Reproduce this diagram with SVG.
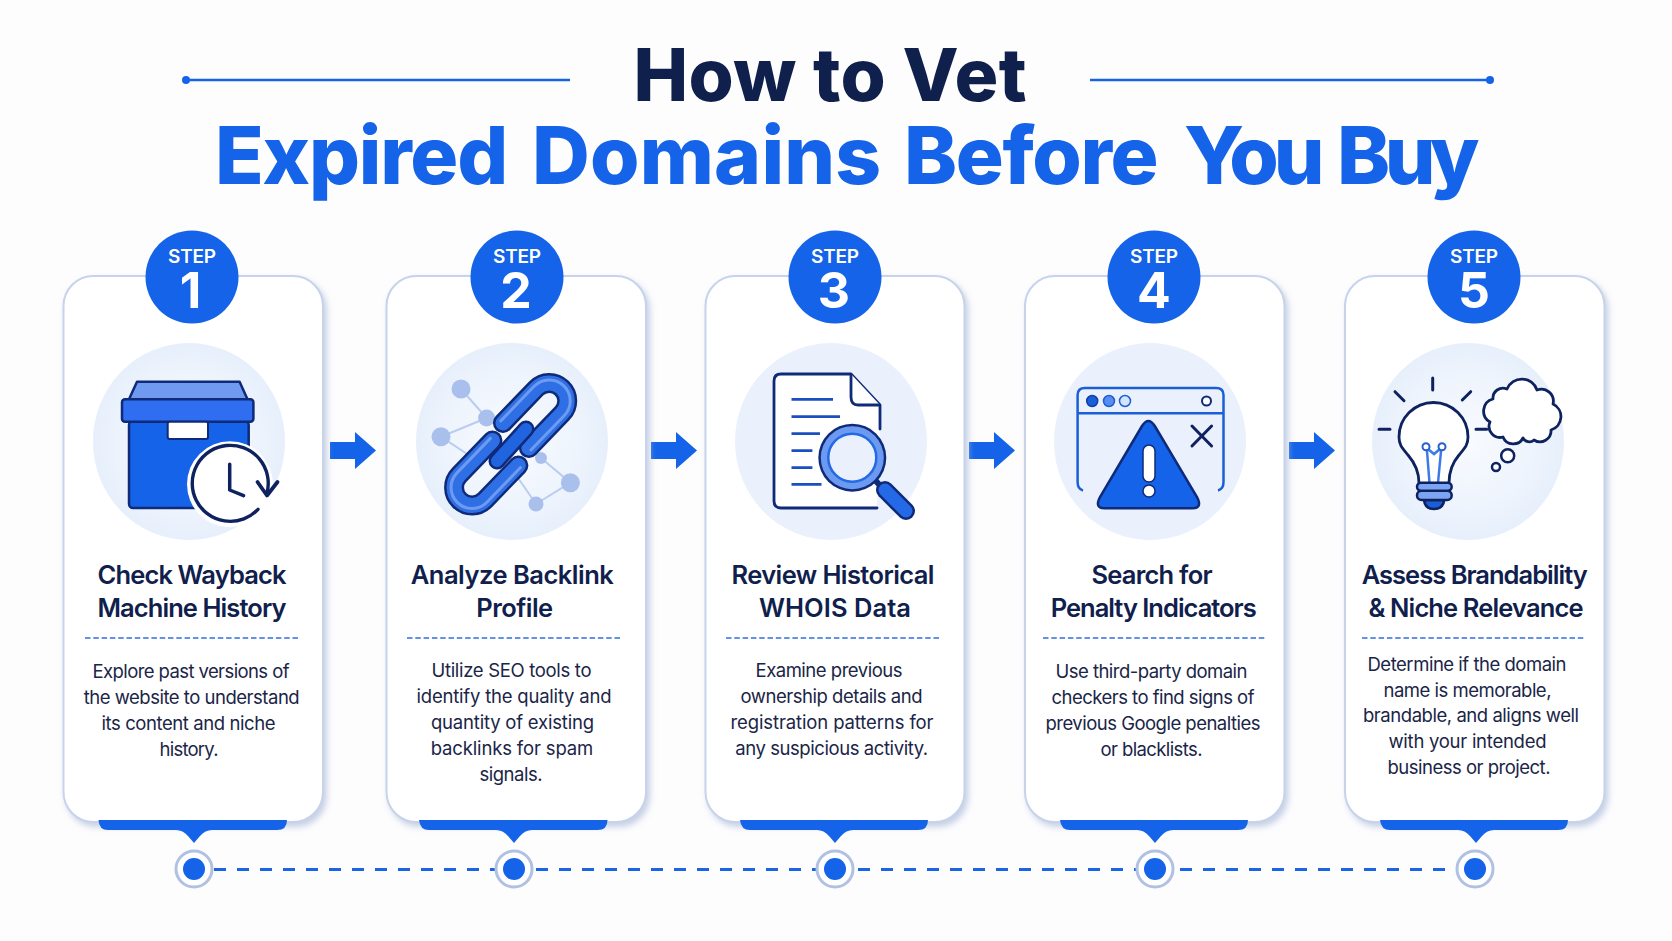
<svg xmlns="http://www.w3.org/2000/svg" width="1672" height="941" viewBox="0 0 1672 941">
<style>
text{font-family:Inter,"Liberation Sans",sans-serif;text-anchor:middle}
.h1{font-size:73px;font-weight:800;fill:#10204c}
.h2{font-size:80px;font-weight:800;fill:#1463e8;text-anchor:start}
.st{font-size:19px;font-weight:600;fill:#fff}
.num{font-size:50px;font-weight:700;fill:#fff}
.t{font-size:25.5px;font-weight:600;fill:#10204c}
.d{font-size:18.5px;font-weight:400;fill:#1a2547}
.card{fill:#fff;stroke:#c6d3ea;stroke-width:2;filter:url(#sh)}
.bub{fill:#1463e8}
.halo{fill:url(#halo)}
.sep{stroke:#2f6fe0;stroke-width:1.6;stroke-dasharray:5.5 2.8;fill:none}
.tab{fill:#1463e8}
.nav{stroke:#0f2260;fill:none;stroke-linecap:round;stroke-linejoin:round}
.arrow{fill:#1463e8}
.dot{fill:#a9c0ed}
.edge{stroke:#b9cdf1;stroke-width:2;fill:none}
.ring{fill:#fff;stroke:#b0c1e2;stroke-width:3}
</style>
<defs>
<filter id="sh" x="-10%" y="-10%" width="120%" height="120%"><feDropShadow dx="3" dy="4" stdDeviation="3" flood-color="#aebdd9" flood-opacity=".7"/></filter>
<radialGradient id="halo"><stop offset="0" stop-color="#f8fbff"/><stop offset=".7" stop-color="#eef4fd"/><stop offset="1" stop-color="#e6effb"/></radialGradient>
</defs>
<rect width="1672" height="941" fill="#fdfdfe"/>

<g id="title">
<line x1="186" y1="80" x2="570" y2="80" stroke="#1463e8" stroke-width="2.6"/><circle cx="186" cy="80" r="4" fill="#1463e8"/>
<line x1="1090" y1="80" x2="1490" y2="80" stroke="#1463e8" stroke-width="2.6"/><circle cx="1490" cy="80" r="4" fill="#1463e8"/>
<text class="h1" x="830" y="101" textLength="393">How to Vet</text>
<text class="h2" y="184"><tspan x="215" letter-spacing="-1.200">Expired</tspan> <tspan x="532" letter-spacing="0.200">Domains</tspan> <tspan x="904" letter-spacing="-1.400">Before</tspan> <tspan x="1184" letter-spacing="-5">You</tspan> <tspan x="1337" letter-spacing="-5.500">Buy</tspan></text>
</g>

<g id="connectors">
<path class="arrow" d="M330 442H355V432L376 450.5 355 469V459H330Z"/>
<path class="arrow" d="M651 442H676V432L697 450.5 676 469V459H651Z"/>
<path class="arrow" d="M969 442H994V432L1015 450.5 994 469V459H969Z"/>
<path class="arrow" d="M1289 442H1314V432L1335 450.5 1314 469V459H1289Z"/>
<line x1="214" y1="869.500" x2="1457" y2="869.500" stroke="#1c64e6" stroke-width="2.800" stroke-dasharray="12 11"/>
</g>

<g id="step1">
<rect class="card" x="63.500" y="276" width="259.500" height="546" rx="30"/>
<path class="tab" d="M98.5 820H287Q287 830 277 830H212Q205 830 200 836L194 843 188 836Q183 830 176 830H108Q99 830 98.5 820Z"/>
<circle class="bub" cx="192" cy="277" r="46.500"/>
<text class="st" x="192" y="263" textLength="48">STEP</text><text class="num" x="190.500" y="308">1</text>
<ellipse class="halo" cx="189" cy="441.500" rx="96" ry="98.500"/>
<path d="M137 381.700H239.600L247.500 399.300H129Z" fill="#6f9af0" stroke="#0f2a78" stroke-width="2.500" stroke-linejoin="round"/>
<rect x="129" y="421" width="119.700" height="87" rx="4" fill="#1463e8" stroke="#0f2a78" stroke-width="2.500"/>
<rect x="122" y="399.300" width="131.400" height="22.400" rx="3" fill="#2f6ef0" stroke="#0f2a78" stroke-width="2.500"/>
<rect x="167.700" y="421.700" width="40.300" height="17.300" rx="2" fill="#fff" stroke="#0f2a78" stroke-width="2"/>
<circle cx="230" cy="484.300" r="43" fill="#fff"/>
<path class="nav" stroke-width="3.400" d="M258 509.300A38 38 0 1 1 267 493"/>
<path class="nav" stroke-width="3.800" d="M257.500 482L267 495.500 277.500 482"/>
<path class="nav" stroke-width="3.500" d="M229.700 464.300V490L243.600 495.700"/>
<text class="t" x="192" y="584" textLength="189">Check Wayback</text><text class="t" x="192" y="617" textLength="189">Machine History</text>
<line class="sep" x1="85" y1="638" x2="299" y2="638"/>
<text class="d" x="191" y="678" textLength="197">Explore past versions of</text>
<text class="d" x="191.700" y="704" textLength="216">the website to understand</text>
<text class="d" x="188.500" y="730" textLength="174">its content and niche</text>
<text class="d" x="189" y="756" textLength="59">history.</text>
</g>

<g id="step2">
<rect class="card" x="386.500" y="276" width="259.500" height="546" rx="30"/>
<path class="tab" d="M419 820H607.500Q607.500 830 597.500 830H532Q525 830 520 836L514 843 508 836Q503 830 496 830H429Q420 830 419 820Z"/>
<circle class="bub" cx="517" cy="277" r="46.500"/>
<text class="st" x="517" y="263" textLength="48">STEP</text><text class="num" x="516" y="308">2</text>
<ellipse class="halo" cx="512" cy="441.500" rx="96" ry="98.500"/>
<path class="edge" d="M461 389L486.600 418M441 436.700L486.600 418M441 436.700L470 456M541 458L570.400 482.700L536 504L516 475"/>
<circle class="dot" cx="461" cy="389" r="9.500"/><circle class="dot" cx="486.600" cy="418" r="8.500"/><circle class="dot" cx="441" cy="436.700" r="9.500"/><circle class="dot" cx="541" cy="458" r="6"/><circle class="dot" cx="570.400" cy="482.700" r="9.500"/><circle class="dot" cx="536" cy="504" r="7.500"/>
<g transform="translate(538.800 411.700) rotate(-46)" fill="none" stroke-linecap="round">
<path d="M-33 -18H15A18 18 0 0 1 15 18H-33" stroke="#0f2a78" stroke-width="20"/>
<path d="M-33 -18H15A18 18 0 0 1 15 18H-33" stroke="#2e6fe6" stroke-width="15"/>
<path d="M-33 -21H15A21 21 0 0 1 15 21H-33" stroke="#6e9bf0" stroke-width="3"/>
</g>
<g transform="translate(482.500 476.700) rotate(-46)" fill="none" stroke-linecap="round">
<path d="M33 -18H-15A18 18 0 0 0 -15 18H33" stroke="#0f2a78" stroke-width="20"/>
<path d="M33 -18H-15A18 18 0 0 0 -15 18H33" stroke="#2e6fe6" stroke-width="15"/>
<path d="M33 -21H-15A21 21 0 0 0 -15 21H33" stroke="#6e9bf0" stroke-width="3"/>
</g>
<line x1="526" y1="429" x2="497" y2="461" stroke="#0f2a78" stroke-width="17" stroke-linecap="round"/>
<line x1="526" y1="429" x2="497" y2="461" stroke="#2064e0" stroke-width="12" stroke-linecap="round"/>
<text class="t" x="512.300" y="584" textLength="203">Analyze Backlink</text><text class="t" x="514.700" y="617" textLength="77">Profile</text>
<line class="sep" x1="407" y1="638" x2="620" y2="638"/>
<text class="d" x="511.500" y="677" textLength="160">Utilize SEO tools to</text>
<text class="d" x="514" y="703" textLength="195">identify the quality and</text>
<text class="d" x="512.500" y="729" textLength="163">quantity of existing</text>
<text class="d" x="512" y="755" textLength="162.500">backlinks for spam</text>
<text class="d" x="511" y="781" textLength="63">signals.</text>
</g>

<g id="step3">
<rect class="card" x="705.500" y="276" width="259" height="546" rx="30"/>
<path class="tab" d="M740 820H928Q928 830 918 830H853Q846 830 841 836L835 843 829 836Q824 830 817 830H750Q741 830 740 820Z"/>
<circle class="bub" cx="835" cy="277" r="46.500"/>
<text class="st" x="835" y="263" textLength="48">STEP</text><text class="num" x="834" y="308">3</text>
<ellipse class="halo" cx="831" cy="441.500" rx="96" ry="98.500" style="fill:#eaf1fc"/>
<path d="M880 429V405L851 374H781Q774 374 774 381V501Q774 508 781 508H877" fill="#fff" stroke="#0f2a78" stroke-width="2.800" stroke-linejoin="round" stroke-linecap="round"/>
<path d="M851 374V397Q851 405 858 405H880" fill="#fff" stroke="#0f2a78" stroke-width="2.800" stroke-linejoin="round"/>
<path d="M791.500 399.300H833M791.500 416.700H840M791.500 433.700H820M791.500 450.700H812.400M791.500 467.700H812.400M791.500 484.300H821.500" stroke="#1a4fc0" stroke-width="2.800" fill="none"/>
<line x1="875" y1="480" x2="884" y2="490" stroke="#0f2a78" stroke-width="6"/>
<line x1="885" y1="490" x2="906" y2="511" stroke="#0f2a78" stroke-width="18" stroke-linecap="round"/>
<line x1="885" y1="490" x2="906" y2="511" stroke="#2469e6" stroke-width="13" stroke-linecap="round"/>
<circle cx="852.300" cy="457.700" r="34" fill="#0f2a78"/>
<circle cx="852.300" cy="457.700" r="31.500" fill="#6c9af0"/>
<circle cx="852.300" cy="457.700" r="24" fill="#eaf1fc" stroke="#2469e6" stroke-width="2.500"/>
<text class="t" x="833" y="584" textLength="203">Review Historical</text><text class="t" x="835" y="617" textLength="152">WHOIS Data</text>
<line class="sep" x1="726" y1="638" x2="940" y2="638"/>
<text class="d" x="829" y="677" textLength="147">Examine previous</text>
<text class="d" x="831.500" y="703" textLength="182">ownership details and</text>
<text class="d" x="832" y="729" textLength="203">registration patterns for</text>
<text class="d" x="831.700" y="755" textLength="193">any suspicious activity.</text>
</g>

<g id="step4">
<rect class="card" x="1025" y="276" width="259.500" height="546" rx="30"/>
<path class="tab" d="M1060 820H1248Q1248 830 1238 830H1173Q1166 830 1161 836L1155 843 1149 836Q1144 830 1137 830H1070Q1061 830 1060 820Z"/>
<circle class="bub" cx="1154" cy="277" r="46.500"/>
<text class="st" x="1154" y="263" textLength="48">STEP</text><text class="num" x="1154" y="308">4</text>
<ellipse class="halo" cx="1150" cy="441.500" rx="96" ry="98.500" style="fill:#eaf1fc"/>
<path d="M1083 490.500Q1077.600 489 1077.600 482V395Q1077.600 388 1085 388H1216Q1223.500 388 1223.500 395V482Q1223.500 489 1218 490.500M1077.600 413.300H1223.500" fill="none" stroke="#1a5fd8" stroke-width="2.500"/>
<circle cx="1092.200" cy="401" r="5.500" fill="#1a5fd8" stroke="#0f3fa8" stroke-width="1.500"/>
<circle cx="1109" cy="401" r="5.500" fill="#5a8df0" stroke="#1a5fd8" stroke-width="1.500"/>
<circle cx="1125" cy="401" r="5.500" fill="#d5e3fb" stroke="#1a5fd8" stroke-width="1.500"/>
<circle cx="1206.500" cy="401" r="4.500" fill="#fff" stroke="#0f2a78" stroke-width="2"/>
<path d="M1142 426Q1148.400 416 1154.800 426L1197 497Q1203 508.300 1192 508.300H1105Q1094 508.300 1100 497Z" fill="#1463e8" stroke="#0f2a78" stroke-width="2.500"/>
<rect x="1143" y="445" width="12" height="37" rx="6" fill="#fff" stroke="#0f2a78" stroke-width="1.500"/>
<circle cx="1149" cy="491" r="6" fill="#fff" stroke="#0f2a78" stroke-width="1.500"/>
<path class="nav" stroke-width="3" d="M1192 426L1211.600 446M1211.600 426L1192 446"/>
<text class="t" x="1152" y="584" textLength="121">Search for</text><text class="t" x="1153.700" y="617" textLength="206">Penalty Indicators</text>
<line class="sep" x1="1043" y1="638" x2="1266" y2="638"/>
<text class="d" x="1151.500" y="678" textLength="192">Use third-party domain</text>
<text class="d" x="1153" y="704" textLength="203">checkers to find signs of</text>
<text class="d" x="1153" y="730" textLength="215">previous Google penalties</text>
<text class="d" x="1151.500" y="756" textLength="102">or blacklists.</text>
</g>

<g id="step5">
<rect class="card" x="1345" y="276" width="259.500" height="546" rx="30"/>
<path class="tab" d="M1380 820H1568Q1568 830 1558 830H1494Q1487 830 1482 836L1476 843 1470 836Q1465 830 1458 830H1390Q1381 830 1380 820Z"/>
<circle class="bub" cx="1474" cy="277" r="46.500"/>
<text class="st" x="1474" y="263" textLength="48">STEP</text><text class="num" x="1474" y="308">5</text>
<ellipse class="halo" cx="1468" cy="441.500" rx="96" ry="98.500"/>
<path class="nav" stroke-width="3" d="M1432.700 378V390M1395 391.700L1404 400.700M1470.700 391.700L1462.300 400M1379 429.300H1390M1476 429.300H1486.700"/>
<g transform="translate(1 0)">
<path d="M1418 483C1418 470 1413 462 1407 455C1401 448 1398 445 1398 437A34.500 34.500 0 0 1 1467 437C1467 445 1464 448 1458 455C1452 462 1448 470 1448 483" fill="#fff" stroke="#0f2260" stroke-width="2.800"/>
<path d="M1428.500 483L1426 451M1437 483L1440 451M1427 449L1433 454 1439 449" fill="none" stroke="#3d7ae8" stroke-width="2.500"/>
<circle cx="1425" cy="446.700" r="3.500" fill="#fff" stroke="#2a5fd0" stroke-width="2"/><circle cx="1441" cy="446.700" r="3.500" fill="#fff" stroke="#2a5fd0" stroke-width="2"/>
<path d="M1423 500H1443.300Q1442 509 1433 509Q1424 509 1423 500Z" fill="#1a5fd8" stroke="#0f2260" stroke-width="2.500"/>
<rect x="1416" y="490.700" width="34.700" height="9.300" rx="4.500" fill="#7ba4f2" stroke="#0f2260" stroke-width="2.500"/>
<rect x="1416" y="482.700" width="34.700" height="8" rx="4" fill="#7ba4f2" stroke="#0f2260" stroke-width="2.500"/>
</g>
<path d="M1507 389A16 16 0 0 1 1537 390A12 12 0 0 1 1553 404A14 14 0 0 1 1551 430A11 11 0 0 1 1534 440A7 7 0 0 1 1523 438A11 11 0 0 1 1503 437A11 11 0 0 1 1490 422A12.500 12.500 0 0 1 1493 399A10 10 0 0 1 1507 389Z" fill="#fff" stroke="#0f2260" stroke-width="2.800" stroke-linejoin="round"/>
<circle cx="1507.700" cy="455.700" r="6.500" fill="#fff" stroke="#0f2260" stroke-width="2.500"/><circle cx="1496" cy="467" r="4" fill="#fff" stroke="#0f2260" stroke-width="2.500"/>
<text class="t" x="1474.700" y="584" textLength="226">Assess Brandability</text><text class="t" x="1476" y="617" textLength="215">&amp; Niche Relevance</text>
<line class="sep" x1="1362" y1="638" x2="1586" y2="638"/>
<text class="d" x="1467" y="671" textLength="199">Determine if the domain</text>
<text class="d" x="1467.500" y="697" textLength="168">name is memorable,</text>
<text class="d" x="1471" y="722" textLength="216">brandable, and aligns well</text>
<text class="d" x="1467.500" y="748" textLength="158">with your intended</text>
<text class="d" x="1469" y="774" textLength="163">business or project.</text>
</g>

<g id="timeline">
<g id="tn1"><circle class="ring" cx="194" cy="869" r="18"/><circle cx="194" cy="869" r="11" fill="#1463e8"/></g>
<g id="tn2"><circle class="ring" cx="514" cy="869" r="18"/><circle cx="514" cy="869" r="11" fill="#1463e8"/></g>
<g id="tn3"><circle class="ring" cx="835" cy="869" r="18"/><circle cx="835" cy="869" r="11" fill="#1463e8"/></g>
<g id="tn4"><circle class="ring" cx="1155" cy="869" r="18"/><circle cx="1155" cy="869" r="11" fill="#1463e8"/></g>
<g id="tn5"><circle class="ring" cx="1475" cy="869" r="18"/><circle cx="1475" cy="869" r="11" fill="#1463e8"/></g>
</g>
</svg>
